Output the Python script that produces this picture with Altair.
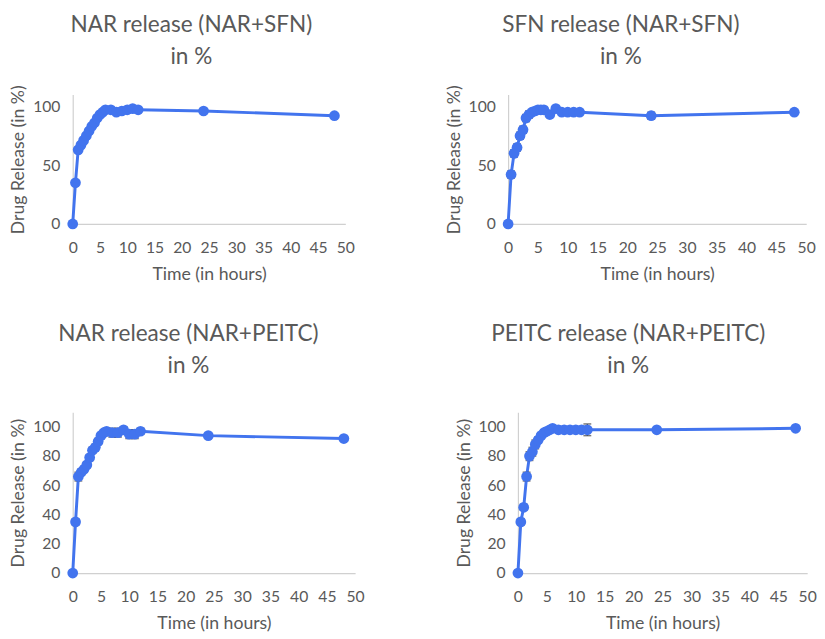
import altair as alt
import pandas as pd

times = [0, 0.5, 1, 1.5, 2, 2.5, 3, 3.5, 4, 4.5, 5, 5.5, 6, 7, 8, 9, 10, 11, 12, 24, 48]

nar_sfn = [0, 35, 63, 67, 71, 75, 79, 83, 86, 90, 93, 95, 97, 97, 95, 96, 97, 98, 97, 96, 92]
nar_sfn_err = [0, 0, 1, 1, 1, 1, 1, 1, 1, 1, 1, 1, 1, 1, 1, 1, 1, 1, 1, 1, 1]

sfn_sfn = [0, 42, 60, 65, 75, 80, 90, 93, 95, 96, 97, 97, 97, 93, 98, 95, 95, 95, 95, 92, 95]
sfn_sfn_err = [0, 3, 3, 3, 3, 3, 3, 3, 2, 2, 2, 2, 2, 2, 2, 2, 2, 2, 2, 3, 1]

nar_peitc = [0, 35, 66, 69, 71, 74, 79, 84, 86, 90, 94, 96, 97, 96, 96, 98, 95, 95, 97, 94, 92]
nar_peitc_err = [0, 2, 3, 2, 2, 2, 2, 2, 2, 2, 2, 2, 2, 3, 3, 2, 3, 3, 2, 1, 1]

peitc_peitc = [0, 35, 45, 66, 80, 83, 88, 91, 94, 96, 97, 98, 99, 98, 98, 98, 98, 98, 98, 98, 99]
peitc_peitc_err = [0, 2, 2, 3, 3, 3, 3, 2, 2, 2, 2, 1, 1, 1, 1, 1, 1, 2, 4, 1, 1]

titles = ["NAR release (NAR+SFN)", "SFN release (NAR+SFN)",
          "NAR release (NAR+PEITC)", "PEITC release (NAR+PEITC)"]
x_ticks = list(range(0, 55, 5))
y_ticks_top = [0, 50, 100]
y_ticks_bottom = [0, 20, 40, 60, 80, 100]

BLUE = "#4274EE"
GRAY = "#595959"
FONT = "Lato"


def panel(vals, errs, title, dx, width, height, yticks, offset):
    df = pd.DataFrame({"t": times, "v": vals})
    df["lo"] = [v - e for v, e in zip(vals, errs)]
    df["hi"] = [v + e for v, e in zip(vals, errs)]
    base = alt.Chart(df)
    xs = alt.Scale(domain=[0, 50], nice=False, zero=False)
    ys = alt.Scale(domain=[0, 110], nice=False, zero=False)
    xax = alt.Axis(values=x_ticks, title="Time (in hours)", format="d",
                   labelOverlap=False, labelFlush=False)
    yax = alt.Axis(values=yticks, title="Drug Release (in %)", format="d",
                   labelOverlap=False, labelFlush=False)
    x = alt.X("t:Q", scale=xs, axis=xax)

    def yenc(field):
        return alt.Y(field, type="quantitative", scale=ys, axis=yax)

    rules = base.mark_rule(color="#404040", strokeWidth=1.2).encode(
        x=x, y=yenc("lo"), y2="hi:Q")
    caps_lo = base.mark_tick(color="#404040", orient="horizontal", size=8, thickness=1.5).encode(
        x=x, y=yenc("lo"))
    caps_hi = base.mark_tick(color="#404040", orient="horizontal", size=8, thickness=1.5).encode(
        x=x, y=yenc("hi"))
    line = base.mark_line(color=BLUE, strokeWidth=3).encode(x=x, y=yenc("v"))
    pts = base.mark_point(color=BLUE, filled=True, opacity=1, size=120).encode(x=x, y=yenc("v"))
    return alt.layer(line, rules, caps_lo, caps_hi, pts).properties(
        width=width, height=height,
        title=alt.TitleParams(text=[title, "in %"], dx=dx, anchor="middle", frame="group",
                              fontSize=23, lineHeight=33, font=FONT, color=GRAY,
                              fontWeight="normal", offset=offset),
    )


p1 = panel(nar_sfn, nar_sfn_err, titles[0], -18, 278, 132, y_ticks_top, 16)
p2 = panel(sfn_sfn, sfn_sfn_err, titles[1], -37, 304, 132, y_ticks_top, 16)
p3 = panel(nar_peitc, nar_peitc_err, titles[2], -26, 288, 164, y_ticks_bottom, 35)
p4 = panel(peitc_peitc, peitc_peitc_err, titles[3], -35, 295, 164, y_ticks_bottom, 35)

top = alt.hconcat(p1, p2, spacing=92)
bottom = alt.hconcat(p3, p4, spacing=92)

chart = alt.vconcat(top, bottom, spacing=40).properties(
    padding={"top": 0, "left": 2, "right": 0, "bottom": 0}
).configure_view(
    stroke=None
).configure_axis(
    grid=False, ticks=False, domainColor="#D0D0D0", domainWidth=1.2,
    labelFont=FONT, labelFontSize=16, labelColor=GRAY,
    titleFont=FONT, titleFontSize=18, titleColor=GRAY, titleFontWeight="normal",
).configure_axisX(
    labelPadding=16, titlePadding=11
).configure_axisY(
    labelPadding=13, titlePadding=5
)

chart.save("out.html", embed_options={"renderer": "svg", "actions": False})
